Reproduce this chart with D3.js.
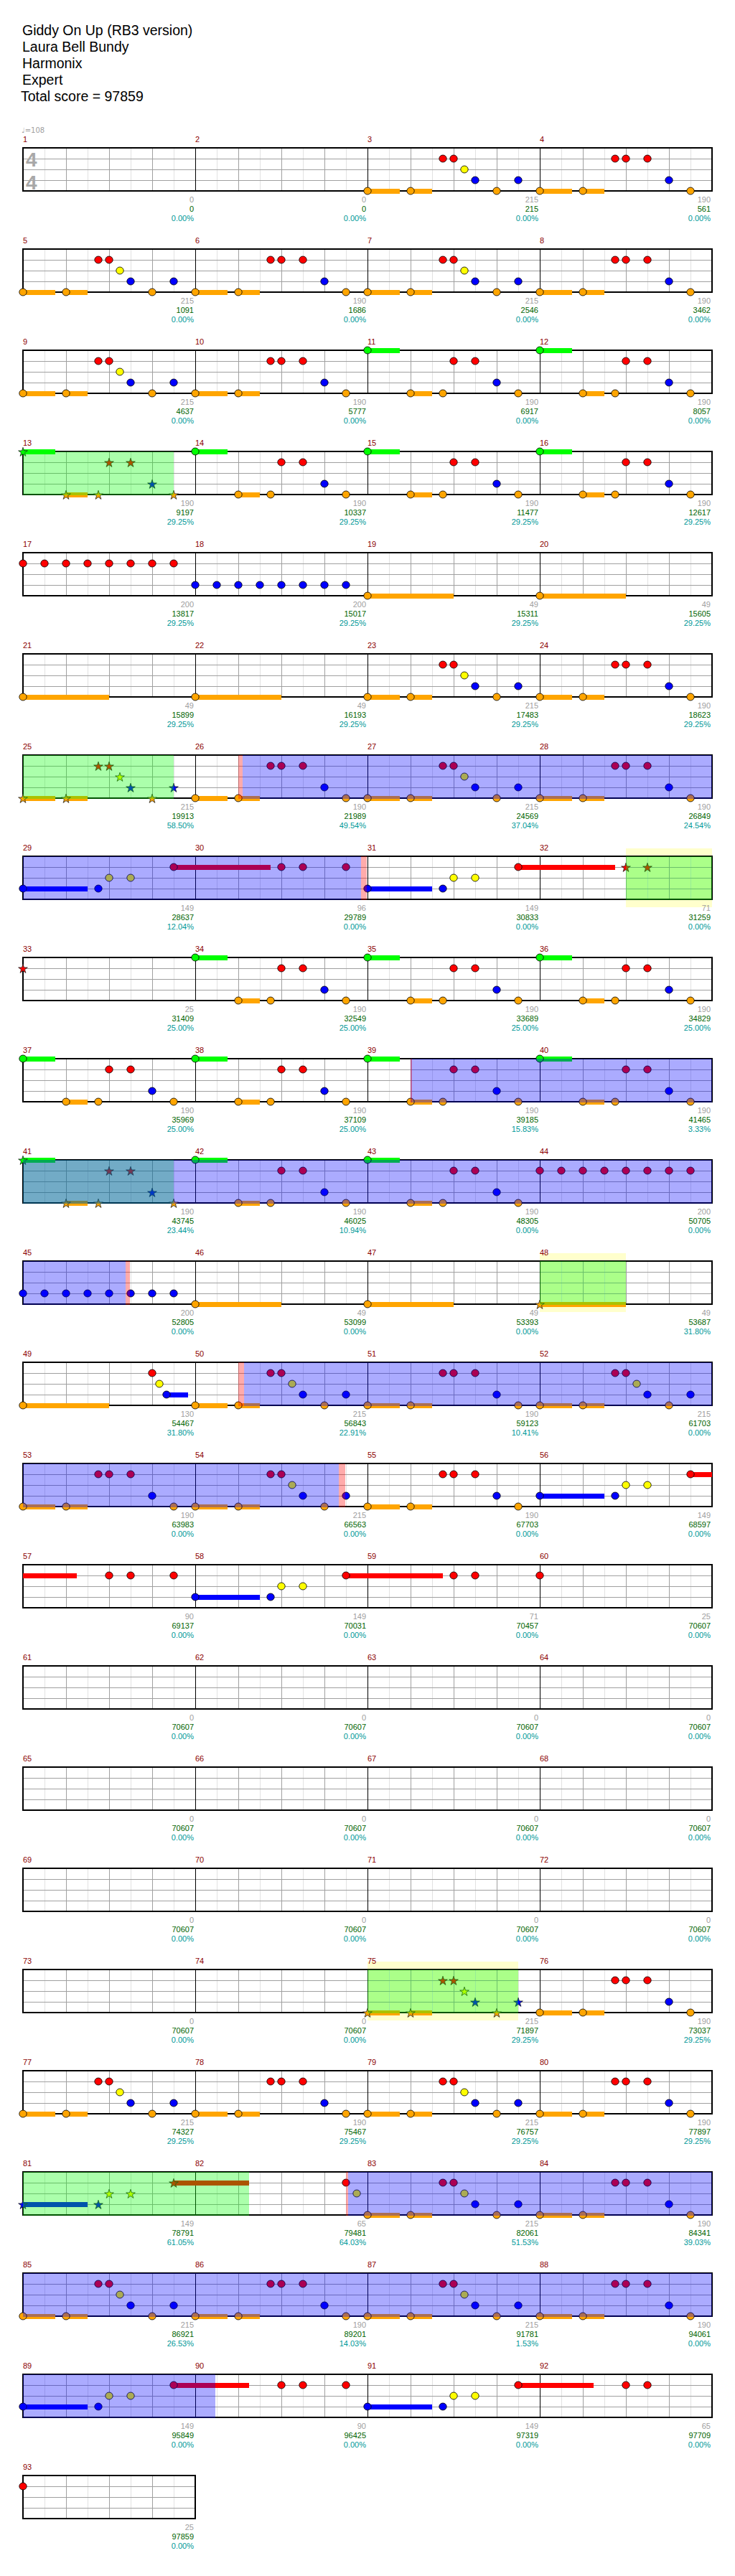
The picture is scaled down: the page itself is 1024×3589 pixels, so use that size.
<!DOCTYPE html>
<html><head><meta charset="utf-8">
<script src="https://cdn.jsdelivr.net/npm/d3@7"></script>
<style>
body{margin:0;background:#fff}
svg{display:block}
text{font-family:"Liberation Sans",Arial,sans-serif}
</style>
</head><body>
<svg id="c" width="1024" height="3589"></svg>
<script>
// ---------------- DATA ----------------
const titleLines = ["Giddy On Up (RB3 version)", "Laura Bell Bundy", "Harmonix", "Expert", "Total score = 97859"];
const tempoLabel = "\u2669=108";
const timeSig = ["4", "4"];
const measureCount = 93;

// note tokens: lane + beat [":" sustain beats] ["*" = star note]
const patA = ["K0:.75", "K1:.5", "R1.75", "R2", "Y2.25", "B2.5", "K3", "B3.5"];
const patB = ["K0:.75", "K1:.5", "R1.75", "R2", "R2.5", "B3", "K3.5"];
const patC = ["G0:.75", "K1:.5", "K1.75", "R2", "R2.5", "B3", "K3.5"];
const patAstar = ["K0:.75*", "K1:.5*", "R1.75*", "R2*", "Y2.25*", "B2.5*", "K3*", "B3.5*"];
const patCstar = ["G0:.75*", "K1:.5*", "K1.75*", "R2*", "R2.5*", "B3*", "K3.5*"];
const redEighths = ["R0", "R.5", "R1", "R1.5", "R2", "R2.5", "R3", "R3.5"];
const blueEighths = ["B0", "B.5", "B1", "B1.5", "B2", "B2.5", "B3", "B3.5"];
const kickLong = ["K0:2"];
const m29 = ["B0:1.5", "B1.75", "Y2", "Y2.5", "R3.5:2.25"];
const m30 = ["R2", "R2.5", "R3.5"];
const m31 = ["B0:1.5", "B1.75", "Y2", "Y2.5", "R3.5:2.25"];
const m32 = ["R2*", "R2.5*"];
const m33 = ["R0*"];
const m48 = ["K0:2*"];
const m49 = ["K0:2", "R3", "Y3.167", "B3.333:.5"];
const m56 = ["B0:1.5", "B1.75", "Y2", "Y2.5", "R3.5:1.75"];
const m57 = ["R2", "R2.5", "R3.5"];
const m58 = ["B0:1.5", "B1.75", "Y2", "Y2.5", "R3.5:2.25"];
const m59 = ["R2", "R2.5"];
const m60 = ["R0"];
const m81 = ["B0:1.5*", "B1.75*", "Y2*", "Y2.5*", "R3.5:1.75*"];
const m82 = ["R3.5", "Y3.75"];
const m89 = ["B0:1.5", "B1.75", "Y2", "Y2.5", "R3.5:1.75"];
const m90 = ["R2", "R2.5", "R3.5"];
const m91 = ["B0:1.5", "B1.75", "Y2", "Y2.5", "R3.5:1.75"];
const m92 = ["R2", "R2.5"];
const m93 = ["R0"];
const empty = [];

const measureNotes = [
  empty, empty, patA, patB,
  patA, patB, patA, patB,
  patA, patB, patC, patC,
  patCstar, patC, patC, patC,
  redEighths, blueEighths, kickLong, kickLong,
  kickLong, kickLong, patA, patB,
  patAstar, patB, patA, patB,
  m29, m30, m31, m32,
  m33, patC, patC, patC,
  patC, patC, patC, patC,
  patCstar, patC, patC, redEighths,
  blueEighths, kickLong, kickLong, m48,
  m49, patA, patB, patA,
  patB, patA, patB, m56,
  m57, m58, m59, m60,
  empty, empty, empty, empty,
  empty, empty, empty, empty,
  empty, empty, empty, empty,
  empty, empty, patAstar, patB,
  patA, patB, patA, patB,
  m81, m82, patA, patB,
  patA, patB, patA, patB,
  m89, m90, m91, m92,
  m93
];

const measureScores = [0,0,215,190, 215,190,215,190, 215,190,190,190, 190,190,190,190, 200,200,49,49,
  49,49,215,190, 215,190,215,190, 149,96,149,71, 25,190,190,190, 190,190,190,190, 190,190,190,200,
  200,49,49,49, 130,215,190,215, 190,215,190,149, 90,149,71,25, 0,0,0,0, 0,0,0,0, 0,0,0,0,
  0,0,215,190, 215,190,215,190, 149,65,215,190, 215,190,215,190, 149,90,149,65, 25];
const totalScores = [0,0,215,561, 1091,1686,2546,3462, 4637,5777,6917,8057, 9197,10337,11477,12617,
  13817,15017,15311,15605, 15899,16193,17483,18623, 19913,21989,24569,26849, 28637,29789,30833,31259,
  31409,32549,33689,34829, 35969,37109,39185,41465, 43745,46025,48305,50705, 52805,53099,53393,53687,
  54467,56843,59123,61703, 63983,66563,67703,68597, 69137,70031,70457,70607,
  70607,70607,70607,70607, 70607,70607,70607,70607, 70607,70607,70607,70607,
  70607,70607,71897,73037, 74327,75467,76757,77897, 78791,79481,82061,84341,
  86921,89201,91781,94061, 95849,96425,97319,97709, 97859];
const percentLabels = ["0.00%","0.00%","0.00%","0.00%", "0.00%","0.00%","0.00%","0.00%", "0.00%","0.00%","0.00%","0.00%",
  "29.25%","29.25%","29.25%","29.25%", "29.25%","29.25%","29.25%","29.25%", "29.25%","29.25%","29.25%","29.25%",
  "58.50%","49.54%","37.04%","24.54%", "12.04%","0.00%","0.00%","0.00%", "25.00%","25.00%","25.00%","25.00%",
  "25.00%","25.00%","15.83%","3.33%", "23.44%","10.94%","0.00%","0.00%", "0.00%","0.00%","0.00%","31.80%",
  "31.80%","22.91%","10.41%","0.00%", "0.00%","0.00%","0.00%","0.00%", "0.00%","0.00%","0.00%","0.00%",
  "0.00%","0.00%","0.00%","0.00%", "0.00%","0.00%","0.00%","0.00%", "0.00%","0.00%","0.00%","0.00%",
  "0.00%","0.00%","29.25%","29.25%", "29.25%","29.25%","29.25%","29.25%", "61.05%","64.03%","51.53%","39.03%",
  "26.53%","14.03%","1.53%","0.00%", "0.00%","0.00%","0.00%","0.00%", "0.00%"];

// regions: [startMeasure, startBeat, endMeasure, endBeat]
const overdriveRegions = [[26,1.105,30,3.85],[39,1.0,45,2.38],[50,1.13,54,3.33],[82,3.555,90,0.46]];
const squeezeBands = [[26,1.0,26,1.105],[30,3.85,30,3.99],[39,1.0,39,1.04],[45,2.38,45,2.49],[50,1.0,50,1.13],[54,3.33,54,3.49],[82,3.5,82,3.555]];
const phraseRegions = [[13,0,13,3.5],[25,0,25,3.5],[32,2,32,4],[41,0,41,3.5],[48,0,48,2],[75,0,75,3.5],[81,0,82,1.25]];
const activationRegions = [[32,2,32,4],[48,0,48,2],[75,0,75,3.5]];

// ---------------- DRAW ----------------
const svg = d3.select("#c");
const measuresPerRow = 4;
const nRows = Math.ceil(measureCount / measuresPerRow);
const rowY = d3.scaleLinear().domain([0, 1]).range([194, 335]);      // label line of each row
const beatX = d3.scaleLinear().domain([0, 16]).range([32, 992]);     // beats within a row
const laneY = d3.scaleLinear().domain([0, 4]).range([12, 72]);       // lanes relative to row label
const laneIndex = {G:0, R:1, Y:2, B:3, K:4};
const laneColor = d3.scaleOrdinal().domain([0,1,2,3,4]).range(["#00ff00","#ff0000","#ffff00","#0000ff","#ffa500"]);

function rowMeasures(r){ return Math.min(measuresPerRow, measureCount - r*measuresPerRow); }
function segments(m0, b0, m1, b1){
  const g0 = (m0-1)*4 + b0, g1 = (m1-1)*4 + b1, out = [];
  for (let r = Math.floor(g0/16); r*16 < g1; r++){
    const s = Math.max(g0, r*16) - r*16, e = Math.min(g1, (r+1)*16) - r*16;
    if (e > s) out.push({r, s, e});
  }
  return out;
}

// title
svg.append("g").selectAll("text").data(titleLines).join("text")
  .attr("x", (d,i) => i === 4 ? 29 : 31)
  .attr("y", (d,i) => 49 + i*23)
  .attr("font-size", 19.5).attr("fill", "#000").text(d => d);

// activation (pale yellow) regions behind everything
const actG = svg.append("g");
activationRegions.forEach(a => segments(...a).forEach(sg => {
  actG.append("rect").attr("x", beatX(sg.s)).attr("width", beatX(sg.e)-beatX(sg.s))
    .attr("y", rowY(sg.r)+laneY(0)-11).attr("height", 82).attr("fill", "#ffffcc");
}));

// grid
const gridG = svg.append("g").attr("shape-rendering", "crispEdges");
for (let r = 0; r < nRows; r++){
  const R = rowY(r), nm = rowMeasures(r), top = R + laneY(0), bot = R + laneY(4), xEnd = beatX(nm*4);
  const ticks = d3.range(1, nm*8);
  gridG.selectAll(null).data(ticks.filter(t => t%2 === 1)).join("line")
    .attr("x1", t => beatX(t/2)+0.5).attr("x2", t => beatX(t/2)+0.5).attr("y1", top).attr("y2", bot)
    .attr("stroke", "#e2e2e2");
  gridG.selectAll(null).data(ticks.filter(t => t%2 === 0 && t%8 !== 0)).join("line")
    .attr("x1", t => beatX(t/2)+0.5).attr("x2", t => beatX(t/2)+0.5).attr("y1", top).attr("y2", bot)
    .attr("stroke", "#a0a0a0");
  gridG.selectAll(null).data([1,2,3]).join("line")
    .attr("x1", beatX(0)).attr("x2", xEnd).attr("y1", l => R+laneY(l)+0.5).attr("y2", l => R+laneY(l)+0.5)
    .attr("stroke", "#a0a0a0");
  gridG.selectAll(null).data(ticks.filter(t => t%8 === 0)).join("line")
    .attr("x1", t => beatX(t/2)+0.5).attr("x2", t => beatX(t/2)+0.5).attr("y1", top).attr("y2", bot)
    .attr("stroke", "#000");
  gridG.append("rect").attr("x", beatX(0)).attr("y", top).attr("width", xEnd-beatX(0)).attr("height", bot-top)
    .attr("fill", "none").attr("stroke", "#000").attr("stroke-width", 1.6);
}

// parse notes
const notes = [];
measureNotes.forEach((list, mi) => {
  list.forEach(tok => {
    const mt = tok.match(/^([GRYBK])([\d.]+)(?::([\d.]+))?(\*)?$/);
    notes.push({m: mi+1, lane: laneIndex[mt[1]], beat: +mt[2], len: mt[3] ? +mt[3] : 0, star: !!mt[4]});
  });
});

// sustains
const susG = svg.append("g").attr("shape-rendering", "crispEdges");
notes.filter(n => n.len > 0).forEach(n => {
  segments(n.m, n.beat, n.m, n.beat + n.len).forEach(sg => {
    susG.append("rect").attr("x", beatX(sg.s)).attr("width", beatX(sg.e)-beatX(sg.s))
      .attr("y", rowY(sg.r)+laneY(n.lane)-3.5).attr("height", 7).attr("fill", laneColor(n.lane));
  });
});

// notes
const noteG = svg.append("g");
const star = d3.symbol(d3.symbolStar).size(50);
notes.forEach(n => {
  const r = Math.floor((n.m-1)/4), local = ((n.m-1)%4)*4 + n.beat;
  const cx = beatX(local), cy = rowY(r) + laneY(n.lane);
  if (n.star){
    noteG.append("path").attr("d", star()).attr("transform", `translate(${cx},${cy+1})`)
      .attr("fill", laneColor(n.lane)).attr("stroke", "#222").attr("stroke-width", 0.8);
  } else {
    noteG.append("ellipse").attr("cx", cx).attr("cy", cy).attr("rx", 5.2).attr("ry", 5)
      .attr("fill", laneColor(n.lane)).attr("stroke", "#000").attr("stroke-width", 0.8);
  }
});

// overlays
const ovG = svg.append("g").attr("shape-rendering", "crispEdges");
function overlay(list, color){
  list.forEach(a => segments(...a).forEach(sg => {
    ovG.append("rect").attr("x", beatX(sg.s)).attr("width", beatX(sg.e)-beatX(sg.s))
      .attr("y", rowY(sg.r)+laneY(0)-0.5).attr("height", laneY(4)-laneY(0)+1.5)
      .attr("fill", color).attr("fill-opacity", 0.33);
  }));
}
overlay(phraseRegions, "#00ff00");
overlay(overdriveRegions, "#0000ff");
overlay(squeezeBands, "#ff0000");

// text labels
const txtG = svg.append("g").attr("font-size", 11);
d3.range(measureCount).forEach(i => {
  const r = Math.floor(i/4), j = i%4, R = rowY(r);
  txtG.append("text").attr("x", beatX(j*4)).attr("y", R+4).attr("fill", "#8b0000").text(i+1);
  const xr = beatX((j+1)*4) - 2;
  txtG.append("text").attr("x", xr).attr("y", R+88).attr("text-anchor", "end").attr("fill", "#a0a0a0").text(measureScores[i]);
  txtG.append("text").attr("x", xr).attr("y", R+101).attr("text-anchor", "end").attr("fill", "#006400").text(totalScores[i]);
  txtG.append("text").attr("x", xr).attr("y", R+114).attr("text-anchor", "end").attr("fill", "#009999").text(percentLabels[i]);
});

// tempo and time signature
svg.append("text").attr("x", 30).attr("y", 185).attr("font-size", 10).attr("fill", "#a0a0a0")
  .style("font-family", "'DejaVu Sans', sans-serif").text(tempoLabel);
svg.append("g").selectAll("text").data(timeSig).join("text")
  .attr("x", 36).attr("y", (d,i) => rowY(0) + laneY(0) + 25.5 + i*32)
  .attr("font-size", 28).attr("font-weight", "bold").attr("fill", "#a8a8a8").text(d => d);
</script>
</body></html>
